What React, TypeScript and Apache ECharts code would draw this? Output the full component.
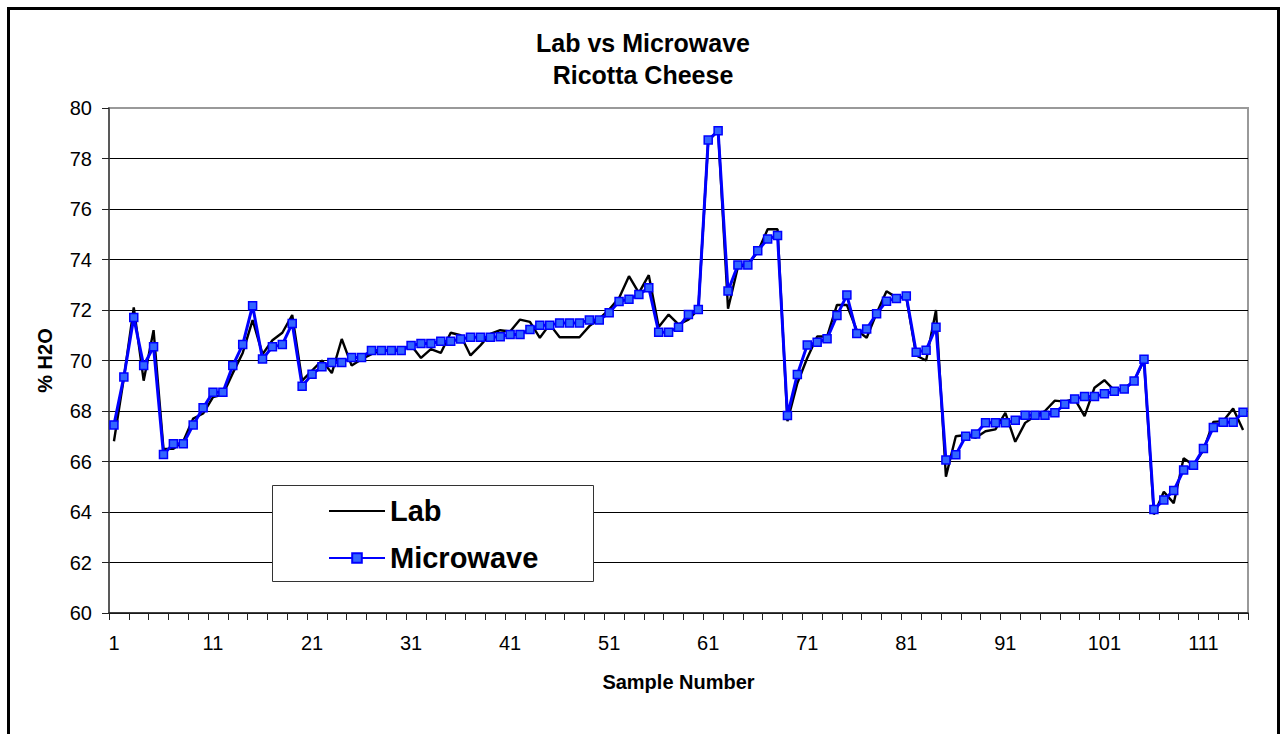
import React, { useEffect, useRef } from "react";
import * as echarts from "echarts";

const categories: string[] = Array.from({ length: 115 }, (_, i) => String(i + 1));

const labValues: number[] = [
  66.8, 69.3, 72.1, 69.2, 71.2, 66.5, 66.5, 66.8, 67.7, 67.9,
  68.55, 68.65, 69.5, 70.3, 71.6, 70.25, 70.8, 71.1, 71.8, 69.2,
  69.6, 70.0, 69.5, 70.85, 69.8, 70.05, 70.25, 70.4, 70.4, 70.45,
  70.6, 70.1, 70.45, 70.3, 71.1, 71.0, 70.2, 70.6, 71.05, 71.2,
  71.15, 71.62, 71.53, 70.9, 71.43, 70.92, 70.92, 70.92, 71.36, 71.65,
  72.02, 72.48, 73.34, 72.68, 73.38, 71.33, 71.82, 71.43, 71.62, 72.02,
  78.7, 79.1, 72.05, 73.7, 73.8, 74.3, 75.2, 75.2, 67.6, 69.1,
  70.1, 70.95, 70.95, 72.2, 72.2, 71.2, 70.9, 71.87, 72.74, 72.5,
  72.5, 70.2, 70.0, 72.0, 65.4, 67.0, 67.05, 66.94, 67.2, 67.27,
  67.93, 66.78, 67.53, 67.8, 68.0, 68.41, 68.37, 68.48, 67.8, 68.92,
  69.22, 68.82, 68.87, 69.2, 70.0, 63.9, 64.8, 64.35, 66.13, 65.85,
  66.45, 67.57, 67.6, 68.1, 67.25,
];

const microwaveValues: number[] = [
  67.45, 69.35, 71.7, 69.8, 70.54, 66.28, 66.7, 66.7, 67.45, 68.13,
  68.74, 68.74, 69.8, 70.63, 72.17, 70.06, 70.54, 70.63, 71.47, 68.98,
  69.46, 69.75, 69.92, 69.92, 70.12, 70.12, 70.4, 70.4, 70.4, 70.4,
  70.59, 70.67, 70.67, 70.76, 70.76, 70.85, 70.92, 70.92, 70.92, 70.94,
  71.03, 71.03, 71.23, 71.4, 71.4, 71.49, 71.49, 71.49, 71.6, 71.6,
  71.89, 72.34, 72.43, 72.61, 72.88, 71.12, 71.12, 71.32, 71.82, 72.02,
  78.73, 79.1, 72.75, 73.78, 73.78, 74.35, 74.81, 74.95, 67.82, 69.45,
  70.61, 70.72, 70.86, 71.78, 72.59, 71.07, 71.25, 71.85, 72.35, 72.46,
  72.55, 70.33, 70.41, 71.32, 66.06, 66.27, 67.0, 67.09, 67.53, 67.53,
  67.53, 67.63, 67.83, 67.83, 67.83, 67.93, 68.27, 68.48, 68.57, 68.57,
  68.68, 68.78, 68.87, 69.19, 70.05, 64.1, 64.48, 64.85, 65.66, 65.85,
  66.51, 67.35, 67.55, 67.55, 67.95,
];

const titleText = "Lab vs Microwave\nRicotta Cheese";
const seriesNames = ["Lab", "Microwave"];
const yMin = 60;
const yMax = 80;
const yInterval = 2;
const xAxisTitle = "Sample Number";
const yAxisTitle = "% H2O";

const FONT = "'Liberation Sans', Arial, Helvetica, sans-serif";

export default function App() {
  const ref = useRef<HTMLDivElement>(null);

  useEffect(() => {
    if (!ref.current) return;
    const chart = echarts.init(ref.current, null, { renderer: "svg" });
    chart.setOption({
      animation: false,
      backgroundColor: "transparent",
      title: {
        text: titleText,
        left: "center",
        top: 26.5,
        padding: 0,
        textStyle: {
          fontFamily: FONT,
          fontSize: 25,
          fontWeight: "bold",
          color: "#000",
          lineHeight: 32.5,
        },
      },
      grid: {
        left: 109,
        right: 38,
        top: 108,
        bottom: 121,
        show: true,
        borderColor: "#999",
        borderWidth: 2,
        backgroundColor: "transparent",
      },
      legend: {
        orient: "vertical",
        left: 328,
        top: 493,
        padding: 0,
        itemWidth: 56,
        itemHeight: 12,
        itemGap: 11,
        z: 6,
        selectedMode: false,
        textStyle: {
          fontFamily: FONT,
          fontSize: 29,
          fontWeight: "bold",
          color: "#000",
          lineHeight: 36,
        },
        data: [
          {
            name: seriesNames[0],
            itemStyle: { color: "rgba(0,0,0,0)", borderColor: "rgba(0,0,0,0)", borderWidth: 0 },
          },
          { name: seriesNames[1] },
        ],
      },
      graphic: [
        {
          type: "rect",
          z: 5,
          shape: { x: 272.5, y: 485.5, width: 321, height: 96 },
          style: { fill: "#fff", stroke: "#333", lineWidth: 1 },
          silent: true,
        },
      ],
      xAxis: {
        type: "category",
        data: categories,
        boundaryGap: true,
        name: xAxisTitle,
        nameLocation: "middle",
        nameGap: 59,
        nameTextStyle: { fontFamily: FONT, fontSize: 20, fontWeight: "bold", color: "#000" },
        axisLine: { show: true, lineStyle: { color: "#222", width: 1.5 } },
        axisTick: { show: true, interval: 1, length: 7, lineStyle: { color: "#222", width: 1 } },
        axisLabel: { interval: 9, margin: 20, fontFamily: FONT, fontSize: 20, color: "#000" },
        splitLine: { show: false },
      },
      yAxis: {
        type: "value",
        min: yMin,
        max: yMax,
        interval: yInterval,
        name: yAxisTitle,
        nameLocation: "middle",
        nameRotate: 90,
        nameGap: 54,
        nameTextStyle: { fontFamily: FONT, fontSize: 20, fontWeight: "bold", color: "#000" },
        axisLine: { show: true, lineStyle: { color: "#444", width: 1.5 } },
        axisTick: { show: true, length: 7, lineStyle: { color: "#222", width: 1 } },
        axisLabel: { margin: 17, fontFamily: FONT, fontSize: 20, color: "#000" },
        splitLine: { show: true, showMaxLine: false, lineStyle: { color: "#000", width: 1 } },
      },
      series: [
        {
          name: seriesNames[0],
          type: "line",
          data: labValues,
          symbol: "none",
          z: 2,
          lineStyle: { color: "#000", width: 2.4 },
          itemStyle: { color: "#000" },
        },
        {
          name: seriesNames[1],
          type: "line",
          data: microwaveValues,
          symbol: "rect",
          symbolSize: 8,
          showAllSymbol: true,
          z: 3,
          lineStyle: { color: "#0000FF", width: 3 },
          itemStyle: { color: "#3366FF", borderColor: "#0000FF", borderWidth: 1.5 },
        },
      ],
    });
    return () => chart.dispose();
  }, []);

  return (
    <>
      <div
        style={{
          position: "fixed",
          left: 7,
          top: 7,
          width: 1273,
          height: 800,
          border: "3px solid #000",
          boxSizing: "border-box",
          background: "#fff",
        }}
      />
      <div
        ref={ref}
        style={{ position: "fixed", left: 0, top: 0, width: 1286, height: 734 }}
      />
    </>
  );
}
